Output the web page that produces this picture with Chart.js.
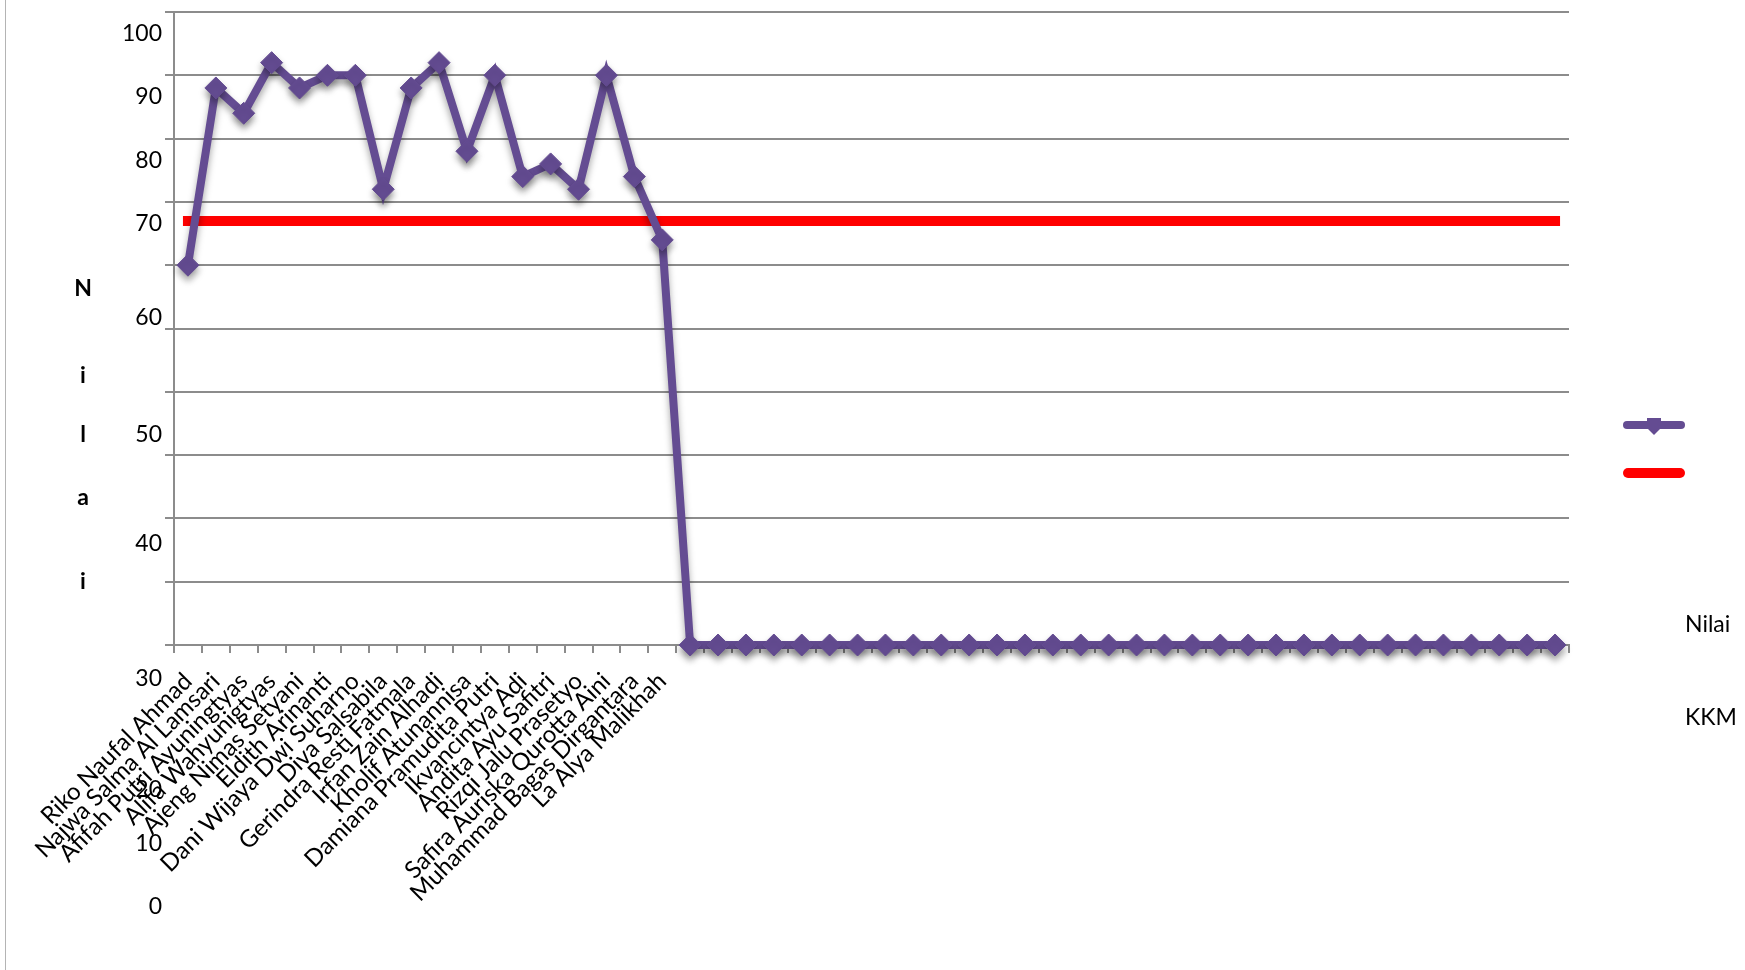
<!DOCTYPE html>
<html>
<head>
<meta charset="utf-8">
<script src="https://cdn.jsdelivr.net/npm/chart.js@4.4.0/dist/chart.umd.min.js"></script>
<style>
    html, body { margin: 0; padding: 0; background: #fff; }
    #wrap { position: relative; width: 1745px; height: 970px; }
    #edge { position: absolute; left: 5px; top: 0; width: 1px; height: 970px; background: #b4b4b4; }
</style>
</head>
<body>
<div id="wrap">
    <canvas id="nilai_chart" width="1745" height="970"></canvas>
    <div id="edge"></div>
</div>
<script>
// student names (only the first 18 categories carry a label)
const names = [
    'Riko Naufal Ahmad', 'Najwa Salma Al Lamsari', 'Afifah Putri Ayuningtyas', 'Alifa Wahyunigtyas',
    'Ajeng Nimas Setyani', 'Eldith Arinanti', 'Dani Wijaya Dwi Suharno', 'Diva Salsabila',
    'Gerindra Resti Fatmala', 'Irfan Zain Alhadi', 'Kholif Atunannisa', 'Damiana Pramudita Putri',
    'Ikvancintya Adi', 'Andita Ayu Safitri', 'Rizqi Jalu Prasetyo', 'Safira Auriska Qurotta Aini',
    'Muhammad Bagas Dirgantara', 'La Alya Malikhah',
    '', '', '', '', '', '', '', '', '', '', '', '', '', '', '', '',
    '', '', '', '', '', '', '', '', '', '', '', '', '', '', '', ''
];

const nilai = [
    60, 88, 84, 92, 88, 90, 90, 72, 88, 92, 78, 90, 74, 76, 72, 90, 74, 64,
    0, 0, 0, 0, 0, 0, 0, 0, 0, 0, 0, 0, 0, 0, 0, 0,
    0, 0, 0, 0, 0, 0, 0, 0, 0, 0, 0, 0, 0, 0, 0, 0
];

const kkm = [
    67, 67, 67, 67, 67, 67, 67, 67, 67, 67, 67, 67, 67, 67, 67, 67, 67, 67,
    67, 67, 67, 67, 67, 67, 67, 67, 67, 67, 67, 67, 67, 67, 67, 67,
    67, 67, 67, 67, 67, 67, 67, 67, 67, 67, 67, 67, 67, 67, 67, 67
];

// y tick labels as they appear (misplaced) in the original picture
const yTickLabels = ['100', '90', '80', '70', '60', '50', '40', '30', '20', '10', '0'];
const yTitleLetters = ['N', 'i', 'l', 'a', 'i'];

const PURPLE = '#644c92';
const RED = '#ff0000';
const FONT = 'Lato, "Open Sans", sans-serif';

// layout of the free-floating texts
const yLabelRight = 162;
const yLabelY = [34, 97, 161, 224, 318, 435, 544, 679, 790, 844, 907];
const titleX = 83;
const titleY = [289, 376, 435, 498, 582];

const textPlugin = {
    id: 'looseText',
    afterDraw(chart) {
        const ctx = chart.ctx;
        ctx.save();
        ctx.fillStyle = '#000';
        ctx.textBaseline = 'middle';

        ctx.font = '23px ' + FONT;
        ctx.textAlign = 'right';
        yTickLabels.forEach((t, i) => ctx.fillText(t, yLabelRight, yLabelY[i]));

        ctx.font = 'bold 23px ' + FONT;
        ctx.textAlign = 'center';
        yTitleLetters.forEach((t, i) => ctx.fillText(t, titleX, titleY[i]));

        // legend: swatches and texts are far apart in the original
        const ds = chart.data.datasets;
        ctx.lineCap = 'round';
        ctx.strokeStyle = ds[0].borderColor;
        ctx.lineWidth = 8;
        ctx.beginPath(); ctx.moveTo(1627, 425); ctx.lineTo(1681, 425); ctx.stroke();
        ctx.fillStyle = ds[0].borderColor;
        ctx.fillRect(1647, 418, 14, 10);
        ctx.beginPath();
        ctx.moveTo(1647, 428); ctx.lineTo(1661, 428); ctx.lineTo(1654, 435);
        ctx.closePath(); ctx.fill();
        ctx.strokeStyle = ds[1].borderColor;
        ctx.lineWidth = 10;
        ctx.beginPath(); ctx.moveTo(1628, 473); ctx.lineTo(1680, 473); ctx.stroke();

        ctx.fillStyle = '#000';
        ctx.font = '23px ' + FONT;
        ctx.textAlign = 'left';
        ctx.fillText(ds[0].label, 1685, 625);
        ctx.fillText(ds[1].label, 1685, 718);
        ctx.restore();
    }
};

const shadowPlugin = {
    id: 'markerShadow',
    beforeDatasetDraw(chart, args) {
        if (args.index !== 0) return;
        const ctx = chart.ctx;
        ctx.save();
        ctx.shadowColor = 'rgba(0,0,0,0.35)';
        ctx.shadowBlur = 7;
        ctx.shadowOffsetY = 5;
    },
    afterDatasetDraw(chart, args) {
        if (args.index !== 0) return;
        chart.ctx.restore();
    }
};

const ctx = document.getElementById('nilai_chart').getContext('2d');
new Chart(ctx, {
    type: 'line',
    data: {
        labels: names,
        datasets: [{
            label: 'Nilai',
            data: nilai,
            borderColor: PURPLE,
            backgroundColor: PURPLE,
            borderWidth: 8,
            pointStyle: 'rectRot',
            pointRadius: 11,
            pointBorderWidth: 1,
            tension: 0,
            clip: false,
            order: 1
        }, {
            label: 'KKM',
            data: kkm,
            borderColor: RED,
            backgroundColor: RED,
            borderWidth: 10,
            borderCapStyle: 'square',
            pointRadius: 0,
            tension: 0,
            order: 2
        }]
    },
    options: {
        responsive: false,
        animation: false,
        layout: { padding: { left: 0, right: 176, top: 9, bottom: 0 } },
        plugins: {
            legend: { display: false },
            tooltip: { enabled: false }
        },
        scales: {
            x: {
                type: 'category',
                offset: true,
                grid: {
                    display: true,
                    offset: true,
                    drawOnChartArea: false,
                    drawTicks: true,
                    tickLength: 8,
                    color: '#8c8c8c',
                    lineWidth: 2
                },
                border: { display: true, color: '#8c8c8c', width: 2 },
                ticks: {
                    autoSkip: false,
                    minRotation: 45,
                    maxRotation: 45,
                    padding: 14,
                    color: '#000',
                    font: { family: FONT, size: 24 }
                },
                afterFit(scale) { scale.height = 325; }
            },
            y: {
                min: 0,
                max: 100,
                ticks: { stepSize: 10, display: false },
                grid: {
                    color: '#8c8c8c',
                    lineWidth: 2,
                    drawTicks: true,
                    tickLength: 9
                },
                border: { display: true, color: '#8c8c8c', width: 2 },
                afterFit(scale) { scale.width = 174; }
            }
        }
    },
    plugins: [shadowPlugin, textPlugin]
});
</script>
</body>
</html>
